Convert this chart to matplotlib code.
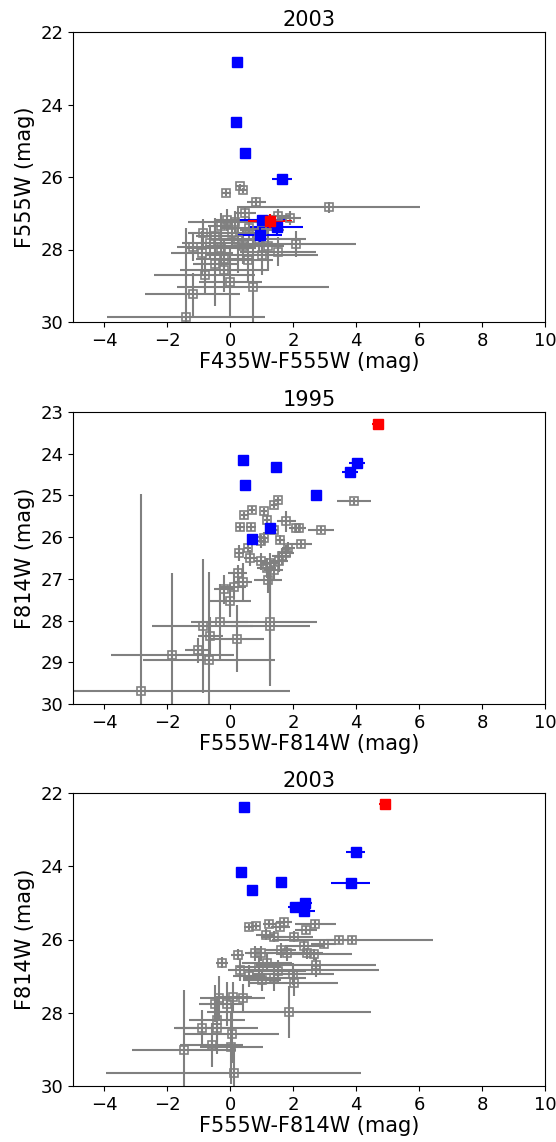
import numpy as np
import matplotlib
matplotlib.use("Agg")
import matplotlib.pyplot as plt

# ---- panel 1: 2003, F435W-F555W vs F555W ----
gray1_x = [0.31, 0.41, -0.13, 0.82, 3.12, 0.47, 1.52, 1.90, -0.12, 0.15, -0.30, 0.60,
           -0.86, -0.50, 0.05, 0.90, -0.65, -1.18, -0.30, 0.40, 2.10, 1.51, 1.00, -0.90,
           -0.20, 0.55, -0.81, -0.20, 0.00, 0.72, -1.20, -1.41, 1.00, 1.20, -0.50, 0.25]
gray1_y = [26.26, 26.37, 26.43, 26.68, 26.83, 27.00, 27.08, 27.13, 27.19, 27.25, 27.35, 27.40,
           27.55, 27.62, 27.55, 27.70, 27.83, 27.92, 27.95, 27.90, 27.85, 28.06, 28.15, 28.10,
           28.25, 28.30, 28.70, 28.57, 28.89, 29.04, 29.24, 29.86, 27.45, 27.90, 28.40, 27.75]
gray1_xerr = [0.12, 0.12, 0.15, 0.30, 2.90, 0.35, 0.40, 0.35, 0.35, 1.50, 0.40, 0.90,
              0.50, 0.60, 0.80, 1.50, 0.90, 0.50, 1.10, 1.20, 1.90, 1.20, 1.80, 1.00,
              0.90, 0.80, 1.60, 1.40, 1.00, 2.40, 1.50, 2.50, 0.70, 0.50, 0.70, 0.60]
gray1_yerr = [0.08, 0.08, 0.10, 0.12, 0.15, 0.20, 0.20, 0.20, 0.30, 0.30, 0.35, 0.30,
              0.40, 0.50, 0.40, 0.35, 0.45, 0.40, 0.50, 0.50, 0.35, 0.40, 0.55, 0.60,
              0.55, 0.60, 0.50, 0.60, 1.00, 1.50, 0.60, 2.45, 0.30, 0.70, 1.15, 0.90]
blue1_x = [0.22, 0.19, 0.46, 1.64, 1.01, 1.47, 0.94]
blue1_y = [22.82, 24.49, 25.34, 26.06, 27.19, 27.38, 27.60]
blue1_xerr = [0.05, 0.05, 0.05, 0.33, 0.75, 0.83, 0.70]
blue1_yerr = [0.03, 0.03, 0.03, 0.05, 0.12, 0.20, 0.20]
red1_x = [1.27]
red1_y = [27.21]
red1_xerr = [0.70]
red1_yerr = [0.20]

# ---- panel 2: 1995, F555W-F814W vs F814W ----
gray2_x = [3.93, 1.52, 1.38, 0.69, 0.45, 1.06, 1.17, 0.32, 0.66, 1.38, 1.78, 2.08,
           2.19, 2.88, 0.99, 1.06, 1.59, 2.26, 1.84, 1.77, 0.29, 0.64, 0.96, 1.25,
           1.54, 1.64, 1.15, 1.38, 0.23, 1.20, 0.40, 0.11, -0.21, 0.00, 1.25, 1.27,
           -0.34, -0.88, -0.64, 0.21, -1.04, -0.67, -1.84, -2.84, 0.55]
gray2_y = [25.14, 25.12, 25.22, 25.34, 25.48, 25.38, 25.58, 25.76, 25.76, 25.82, 25.62, 25.78,
           25.78, 25.82, 26.10, 26.03, 26.06, 26.16, 26.26, 26.38, 26.38, 26.50, 26.58, 26.62,
           26.58, 26.46, 26.74, 26.78, 26.87, 27.03, 27.07, 27.19, 27.25, 27.52, 28.03, 28.13,
           28.03, 28.13, 28.37, 28.43, 28.71, 28.94, 28.82, 29.69, 26.25]
gray2_xerr = [0.55, 0.10, 0.10, 0.10, 0.10, 0.10, 0.10, 0.15, 0.15, 0.15, 0.30, 0.20,
              0.20, 0.40, 0.15, 0.15, 0.15, 0.35, 0.20, 0.25, 0.15, 0.20, 0.20, 0.25,
              0.30, 0.30, 0.30, 0.30, 0.30, 0.45, 0.30, 0.40, 0.30, 0.65, 1.50, 1.25,
              0.90, 1.60, 0.40, 0.85, 0.40, 2.10, 1.95, 4.73, 0.10]
gray2_yerr = [0.08, 0.08, 0.08, 0.08, 0.08, 0.08, 0.10, 0.10, 0.10, 0.10, 0.25, 0.10,
              0.10, 0.08, 0.15, 0.15, 0.10, 0.10, 0.15, 0.20, 0.20, 0.20, 0.20, 0.25,
              0.25, 0.20, 0.25, 0.25, 0.20, 0.30, 0.45, 0.30, 0.35, 0.40, 1.40, 1.45,
              0.90, 1.60, 0.45, 0.80, 0.30, 2.10, 1.95, 4.73, 0.10]
blue2_x = [0.40, 0.46, 1.46, 2.73, 3.80, 4.02, 1.25, 0.69]
blue2_y = [24.14, 24.74, 24.31, 24.99, 24.43, 24.23, 25.78, 26.05]
blue2_xerr = [0.05, 0.05, 0.05, 0.12, 0.25, 0.25, 0.08, 0.10]
blue2_yerr = [0.03, 0.03, 0.03, 0.05, 0.05, 0.05, 0.08, 0.12]
red2_x = [4.68]
red2_y = [23.28]
red2_xerr = [0.18]
red2_yerr = [0.04]

# ---- panel 3: 2003, F555W-F814W vs F814W ----
gray3_x = [0.60, 0.80, 1.24, 1.70, 1.59, 2.70, 2.42, 3.44, 3.88, 2.97, 2.02, 1.38,
           1.12, 2.34, 2.66, 2.44, 1.81, 0.96, 0.78, 0.23, -0.27, 2.72, 2.72, 1.17,
           0.90, 1.50, 2.00, 1.40, 2.02, 0.32, 0.60, 0.40, 0.08, -0.37, -0.48, -0.11,
           1.87, -0.42, -0.90, -0.42, 0.06, -0.59, 0.03, -1.48, 0.11, 1.00, 1.60]
gray3_y = [25.65, 25.63, 25.57, 25.51, 25.65, 25.58, 25.74, 26.01, 26.01, 26.13, 25.92, 25.92,
           25.87, 26.19, 26.40, 26.38, 26.38, 26.38, 26.38, 26.42, 26.63, 26.70, 26.83, 26.65,
           26.75, 26.85, 26.95, 27.05, 27.18, 26.83, 27.00, 27.61, 27.57, 27.61, 27.75, 27.75,
           27.98, 28.20, 28.43, 28.43, 28.57, 28.89, 28.94, 29.03, 29.65, 27.10, 26.30]
gray3_xerr = [0.15, 0.15, 0.20, 0.25, 0.30, 0.65, 0.35, 0.40, 2.55, 0.40, 0.60, 0.40,
              0.30, 0.60, 1.20, 0.50, 0.60, 0.40, 0.30, 0.20, 0.20, 1.90, 2.00, 0.80,
              0.70, 0.90, 1.30, 1.00, 1.40, 0.40, 0.50, 0.70, 0.60, 0.60, 0.50, 0.50,
              2.60, 0.90, 0.90, 1.30, 1.50, 1.00, 1.00, 1.65, 4.05, 0.60, 0.50]
gray3_yerr = [0.08, 0.08, 0.10, 0.10, 0.10, 0.10, 0.10, 0.10, 0.10, 0.10, 0.15, 0.15,
              0.15, 0.15, 0.15, 0.15, 0.20, 0.20, 0.20, 0.15, 0.15, 0.20, 0.20, 0.25,
              0.25, 0.30, 0.30, 0.35, 0.35, 0.30, 0.30, 0.40, 0.40, 0.60, 0.50, 0.60,
              0.70, 0.60, 0.50, 0.70, 0.80, 0.60, 1.00, 1.65, 0.80, 0.30, 0.20]
blue3_x = [0.42, 0.34, 0.69, 1.61, 3.99, 3.82, 2.07, 2.36, 2.34]
blue3_y = [22.37, 24.15, 24.64, 24.43, 23.61, 24.46, 25.10, 25.00, 25.21]
blue3_xerr = [0.05, 0.05, 0.05, 0.05, 0.30, 0.62, 0.25, 0.25, 0.35]
blue3_yerr = [0.03, 0.03, 0.03, 0.03, 0.05, 0.05, 0.08, 0.08, 0.08]
red3_x = [4.92]
red3_y = [22.29]
red3_xerr = [0.20]
red3_yerr = [0.04]

PANELS = [
    ("2003", "F435W-F555W (mag)", "F555W (mag)", (30, 22), np.arange(22, 31, 2),
     (gray1_x, gray1_y, gray1_xerr, gray1_yerr),
     (blue1_x, blue1_y, blue1_xerr, blue1_yerr),
     (red1_x, red1_y, red1_xerr, red1_yerr)),
    ("1995", "F555W-F814W (mag)", "F814W (mag)", (30, 23), np.arange(23, 31, 1),
     (gray2_x, gray2_y, gray2_xerr, gray2_yerr),
     (blue2_x, blue2_y, blue2_xerr, blue2_yerr),
     (red2_x, red2_y, red2_xerr, red2_yerr)),
    ("2003", "F555W-F814W (mag)", "F814W (mag)", (30, 22), np.arange(22, 31, 2),
     (gray3_x, gray3_y, gray3_xerr, gray3_yerr),
     (blue3_x, blue3_y, blue3_xerr, blue3_yerr),
     (red3_x, red3_y, red3_xerr, red3_yerr)),
]

# axes boxes in figure pixels: (left, top, right, bottom)
BOXES = [(73, 32, 545, 322), (73, 412, 545, 704), (73, 793, 545, 1086)]
W, H = 556, 1142

fig = plt.figure(figsize=(W / 100, H / 100), dpi=100)

for (title, xlabel, ylabel, ylim, yticks, gray, blue, red), box in zip(PANELS, BOXES):
    l, t, r, b = box
    ax = fig.add_axes([l / W, 1 - b / H, (r - l) / W, (b - t) / H])

    ax.errorbar(gray[0], gray[1], xerr=gray[2], yerr=gray[3], fmt="s",
                color="gray", mfc="none", mec="gray", ms=6, mew=1.2,
                elinewidth=1.5, capsize=0)
    ax.errorbar(blue[0], blue[1], xerr=blue[2], yerr=blue[3], fmt="s",
                color="blue", ms=7, elinewidth=1.5, capsize=0)
    ax.errorbar(red[0], red[1], xerr=red[2], yerr=red[3], fmt="s",
                color="red", ms=7, elinewidth=1.5, capsize=0)

    ax.set_xlim(-5, 10)
    ax.set_ylim(*ylim)
    ax.set_xticks(np.arange(-4, 11, 2))
    ax.set_yticks(yticks)
    ax.tick_params(labelsize=13)
    ax.set_title(title, fontsize=15, pad=4)
    ax.set_xlabel(xlabel, fontsize=15, labelpad=2)
    ax.set_ylabel(ylabel, fontsize=15, labelpad=4)

fig.savefig("out.png", dpi=100)
